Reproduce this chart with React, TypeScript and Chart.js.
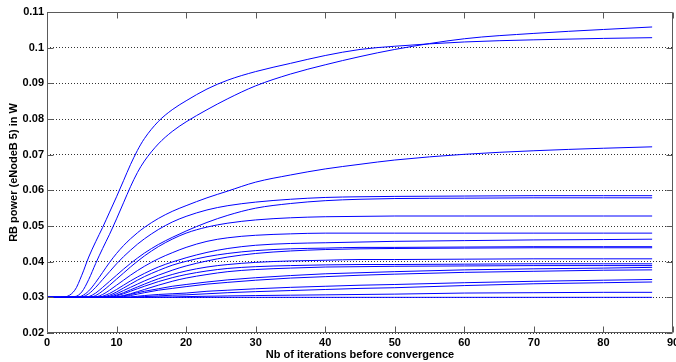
import { useEffect, useRef } from 'react';
import { Chart, registerables } from 'chart.js';

Chart.register(...registerables);

const iterations = [0, 2, 4, 5, 6, 7, 8, 9, 10, 11, 12, 13, 14, 16, 18, 20, 23, 26, 30, 35, 40, 45, 50, 60, 70, 80, 87];

const seriesA = [0.0300, 0.0300, 0.0320, 0.0362, 0.0413, 0.0456, 0.0496, 0.0539, 0.0582, 0.0627, 0.0672, 0.0712, 0.0745, 0.0793, 0.0826, 0.0851, 0.0884, 0.0909, 0.0933, 0.0956, 0.0978, 0.0995, 0.1004, 0.1016, 0.1022, 0.1026, 0.1028];
const seriesB = [0.0300, 0.0300, 0.0302, 0.0315, 0.0350, 0.0395, 0.0437, 0.0477, 0.0520, 0.0565, 0.0610, 0.0650, 0.0682, 0.0730, 0.0765, 0.0792, 0.0826, 0.0857, 0.0893, 0.0926, 0.0952, 0.0975, 0.0995, 0.1025, 0.1040, 0.1051, 0.1058];
const seriesC = [0.0300, 0.0300, 0.0300, 0.0304, 0.0318, 0.0342, 0.0370, 0.0398, 0.0423, 0.0445, 0.0464, 0.0481, 0.0496, 0.0521, 0.0541, 0.0557, 0.0579, 0.0598, 0.0623, 0.0643, 0.0660, 0.0673, 0.0685, 0.0701, 0.0711, 0.0718, 0.0722];
const seriesD = [0.0300, 0.0300, 0.0300, 0.0301, 0.0310, 0.0328, 0.0350, 0.0372, 0.0394, 0.0414, 0.0432, 0.0449, 0.0464, 0.0490, 0.0511, 0.0527, 0.0545, 0.0557, 0.0567, 0.0575, 0.0580, 0.0582, 0.0583, 0.0584, 0.0585, 0.0585, 0.0585];
const seriesE = [0.0300, 0.0300, 0.0300, 0.0300, 0.0302, 0.0312, 0.0328, 0.0345, 0.0362, 0.0379, 0.0395, 0.0410, 0.0424, 0.0448, 0.0468, 0.0486, 0.0510, 0.0530, 0.0550, 0.0563, 0.0571, 0.0575, 0.0577, 0.0578, 0.0579, 0.0579, 0.0579];
const seriesF = [0.0300, 0.0300, 0.0300, 0.0300, 0.0300, 0.0305, 0.0318, 0.0334, 0.0351, 0.0368, 0.0385, 0.0401, 0.0416, 0.0442, 0.0463, 0.0480, 0.0497, 0.0508, 0.0517, 0.0523, 0.0526, 0.0527, 0.0528, 0.0528, 0.0528, 0.0528, 0.0528];
const seriesG = [0.0300, 0.0300, 0.0300, 0.0300, 0.0300, 0.0301, 0.0308, 0.0320, 0.0334, 0.0348, 0.0362, 0.0375, 0.0387, 0.0408, 0.0425, 0.0440, 0.0457, 0.0467, 0.0474, 0.0478, 0.0480, 0.0480, 0.0480, 0.0480, 0.0480, 0.0480, 0.0480];
const seriesH = [0.0300, 0.0300, 0.0300, 0.0300, 0.0300, 0.0300, 0.0303, 0.0311, 0.0322, 0.0334, 0.0346, 0.0357, 0.0367, 0.0385, 0.0399, 0.0411, 0.0426, 0.0437, 0.0446, 0.0451, 0.0453, 0.0455, 0.0457, 0.0459, 0.0461, 0.0462, 0.0463];
const seriesI = [0.0300, 0.0300, 0.0300, 0.0300, 0.0300, 0.0300, 0.0301, 0.0306, 0.0315, 0.0326, 0.0337, 0.0348, 0.0358, 0.0375, 0.0390, 0.0401, 0.0414, 0.0423, 0.0431, 0.0436, 0.0438, 0.0440, 0.0440, 0.0441, 0.0442, 0.0442, 0.0442];
const seriesJ = [0.0300, 0.0300, 0.0300, 0.0300, 0.0300, 0.0300, 0.0300, 0.0303, 0.0310, 0.0319, 0.0328, 0.0337, 0.0346, 0.0362, 0.0376, 0.0388, 0.0402, 0.0413, 0.0423, 0.0430, 0.0434, 0.0436, 0.0437, 0.0438, 0.0439, 0.0439, 0.0439];
const seriesK = [0.0300, 0.0300, 0.0300, 0.0300, 0.0300, 0.0300, 0.0300, 0.0301, 0.0306, 0.0313, 0.0321, 0.0329, 0.0337, 0.0352, 0.0364, 0.0374, 0.0385, 0.0392, 0.0398, 0.0402, 0.0404, 0.0406, 0.0406, 0.0407, 0.0408, 0.0408, 0.0408];
const seriesL = [0.0300, 0.0300, 0.0300, 0.0300, 0.0300, 0.0300, 0.0300, 0.0300, 0.0304, 0.0310, 0.0317, 0.0324, 0.0331, 0.0344, 0.0355, 0.0364, 0.0374, 0.0381, 0.0386, 0.0389, 0.0391, 0.0392, 0.0392, 0.0393, 0.0394, 0.0394, 0.0394];
const seriesM = [0.0300, 0.0300, 0.0300, 0.0300, 0.0300, 0.0300, 0.0300, 0.0300, 0.0301, 0.0305, 0.0310, 0.0316, 0.0322, 0.0334, 0.0345, 0.0354, 0.0364, 0.0372, 0.0378, 0.0382, 0.0385, 0.0386, 0.0387, 0.0388, 0.0389, 0.0389, 0.0389];
const seriesN = [0.0300, 0.0300, 0.0300, 0.0300, 0.0300, 0.0300, 0.0300, 0.0300, 0.0301, 0.0304, 0.0308, 0.0313, 0.0317, 0.0324, 0.0331, 0.0336, 0.0343, 0.0349, 0.0355, 0.0361, 0.0366, 0.0369, 0.0372, 0.0377, 0.0380, 0.0382, 0.0384];
const seriesO = [0.0300, 0.0300, 0.0300, 0.0300, 0.0300, 0.0300, 0.0300, 0.0300, 0.0300, 0.0302, 0.0305, 0.0309, 0.0313, 0.0320, 0.0325, 0.0330, 0.0337, 0.0342, 0.0348, 0.0354, 0.0358, 0.0362, 0.0365, 0.0370, 0.0373, 0.0376, 0.0377];
const seriesP = [0.0300, 0.0300, 0.0300, 0.0300, 0.0300, 0.0300, 0.0300, 0.0300, 0.0300, 0.0300, 0.0301, 0.0303, 0.0305, 0.0308, 0.0310, 0.0312, 0.0317, 0.0320, 0.0324, 0.0328, 0.0331, 0.0334, 0.0336, 0.0341, 0.0345, 0.0348, 0.0350];
const seriesQ = [0.0300, 0.0300, 0.0300, 0.0300, 0.0300, 0.0300, 0.0300, 0.0300, 0.0300, 0.0300, 0.0300, 0.0301, 0.0302, 0.0304, 0.0306, 0.0307, 0.0310, 0.0313, 0.0316, 0.0319, 0.0322, 0.0325, 0.0327, 0.0333, 0.0338, 0.0341, 0.0343];
const seriesR = [0.0300, 0.0300, 0.0300, 0.0300, 0.0300, 0.0300, 0.0300, 0.0300, 0.0300, 0.0300, 0.0300, 0.0300, 0.0300, 0.0301, 0.0301, 0.0302, 0.0303, 0.0304, 0.0305, 0.0306, 0.0307, 0.0308, 0.0309, 0.0312, 0.0313, 0.0314, 0.0314];
const seriesS = [0.0300, 0.0300, 0.0300, 0.0300, 0.0300, 0.0300, 0.0300, 0.0300, 0.0300, 0.0300, 0.0300, 0.0300, 0.0300, 0.0300, 0.0300, 0.0300, 0.0300, 0.0300, 0.0300, 0.0300, 0.0300, 0.0300, 0.0300, 0.0300, 0.0300, 0.0300, 0.0300];

const allSeries = [seriesA, seriesB, seriesC, seriesD, seriesE, seriesF, seriesG, seriesH, seriesI, seriesJ, seriesK, seriesL, seriesM, seriesN, seriesO, seriesP, seriesQ, seriesR, seriesS];

const xTitle = 'Nb of iterations before convergence';
const yTitle = 'RB power (eNodeB 5) in W';

const FONT = "'Liberation Sans', Arial, Helvetica, sans-serif";

const framePlugin = {
  id: 'matlabFrame',
  afterDraw(chart: any) {
    const { ctx, chartArea } = chart;
    const { left, right, top, bottom } = chartArea;
    const xs = chart.scales.x;
    const ys = chart.scales.y;
    const L = Math.round(left) + 0.5;
    const R = Math.round(right) - 0.5;
    const T = Math.round(top) + 0.5;
    const B = Math.round(bottom) - 0.5;
    const tl = 6;
    ctx.save();
    ctx.strokeStyle = '#5a5a5a';
    ctx.lineWidth = 1;
    ctx.setLineDash([]);
    ctx.beginPath();
    ctx.rect(L, T, R - L, B - T);
    ctx.stroke();
    ctx.beginPath();
    xs.ticks.forEach((t: any) => {
      const px = Math.round(xs.getPixelForValue(t.value)) + 0.5;
      ctx.moveTo(px, B);
      ctx.lineTo(px, B - tl);
      ctx.moveTo(px, T);
      ctx.lineTo(px, T + tl);
    });
    ys.ticks.forEach((t: any) => {
      const py = Math.round(ys.getPixelForValue(t.value)) + 0.5;
      ctx.moveTo(L, py);
      ctx.lineTo(L + tl, py);
      ctx.moveTo(R, py);
      ctx.lineTo(R - tl, py);
    });
    ctx.stroke();
    ctx.restore();
  },
};

export default function App() {
  const ref = useRef<HTMLCanvasElement>(null);
  useEffect(() => {
    const canvas = ref.current;
    if (!canvas) return;
    const chart = new Chart(canvas, {
      type: 'line',
      data: {
        datasets: allSeries.map((s) => ({
          data: iterations.map((x, i) => ({ x, y: s[i] })),
          borderColor: 'rgb(0,0,255)',
          borderWidth: 1,
          pointRadius: 0,
          fill: false,
          cubicInterpolationMode: 'monotone' as const,
        })),
      },
      options: {
        responsive: false,
        animation: false,
        devicePixelRatio: 1,
        layout: { padding: { top: 12, right: 3, left: 0, bottom: 0 } },
        plugins: { legend: { display: false }, tooltip: { enabled: false } },
        scales: {
          x: {
            type: 'linear',
            min: 0,
            max: 90,
            ticks: {
              stepSize: 10,
              padding: 3,
              color: '#000',
              maxRotation: 0,
              autoSkip: false,
              font: { family: FONT, size: 11, weight: 'bold' },
            },
            grid: { display: false, drawTicks: false },
            border: { display: false },
            title: {
              display: true,
              text: xTitle,
              color: '#000',
              padding: { top: 0, bottom: 0 },
              font: { family: FONT, size: 11, weight: 'bold' },
            },
            afterFit: (s: any) => {
              s.height = 29;
              s.paddingLeft = 0;
              s.paddingRight = 0;
            },
          },
          y: {
            type: 'linear',
            min: 0.02,
            max: 0.11,
            ticks: {
              stepSize: 0.01,
              padding: 3,
              color: '#000',
              font: { family: FONT, size: 11, weight: 'bold' },
              callback: (v: any) => String(Number(Number(v).toFixed(2))),
            },
            grid: { color: '#333333', lineWidth: 1, drawTicks: false },
            border: { display: false, dash: [1, 2] },
            title: {
              display: true,
              text: yTitle,
              color: '#000',
              padding: { top: 7, bottom: 0 },
              font: { family: FONT, size: 11, weight: 'bold' },
            },
            afterFit: (s: any) => {
              s.width = 47;
              s.paddingTop = 0;
              s.paddingBottom = 0;
            },
          },
        },
      },
      plugins: [framePlugin],
    });
    return () => chart.destroy();
  }, []);
  return (
    <div style={{ position: 'fixed', left: 0, top: 0, width: 676, height: 362, background: '#fff' }}>
      <canvas ref={ref} width={676} height={362} style={{ display: 'block' }} />
    </div>
  );
}
